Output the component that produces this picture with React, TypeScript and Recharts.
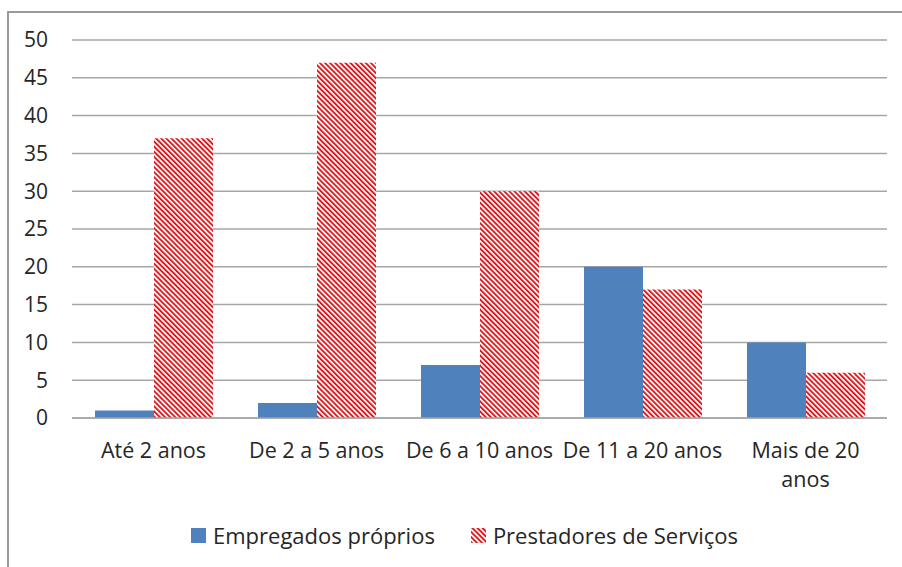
import { BarChart, Bar, XAxis, YAxis, CartesianGrid, Legend } from 'recharts';

const categories = ['Até 2 anos', 'De 2 a 5 anos', 'De 6 a 10 anos', 'De 11 a 20 anos', 'Mais de 20\nanos'];
const empregados = [1, 2, 7, 20, 10];
const prestadores = [37, 47, 30, 17, 6];
const yTicks = [0, 5, 10, 15, 20, 25, 30, 35, 40, 45, 50];

const data = categories.map((name, i) => ({
  name,
  empregados: empregados[i],
  prestadores: prestadores[i],
}));

const FONT = '"Open Sans", sans-serif';
const BLUE = '#4f81bd';
const RED = '#e3181d';
const GRID = '#a6a6a6';

const CategoryTick = (props: any) => {
  const { x, y, payload } = props;
  const lines = String(payload.value).split('\n');
  return (
    <text x={x} y={y + 32} textAnchor="middle" fill="#262626" fontSize={21.5} fontFamily={FONT}>
      {lines.map((line, i) => (
        <tspan key={i} x={x} dy={i === 0 ? 0 : 29}>
          {line}
        </tspan>
      ))}
    </text>
  );
};

const LegendContent = (props: any) => {
  const items = props.payload || [];
  return (
    <div style={{ display: 'flex', justifyContent: 'center', height: 30, alignItems: 'center', fontFamily: FONT, fontSize: 22, color: '#262626' }}>
      {items.map((item: any, i: number) => (
        <div key={i} style={{ display: 'flex', alignItems: 'center', marginLeft: i === 0 ? 0 : 36 }}>
          <svg width={15} height={15} style={{ marginRight: 7 }}>
            <rect width={15} height={15} fill={item.dataKey === 'prestadores' ? 'url(#hatch)' : BLUE} />
          </svg>
          <span>{item.value}</span>
        </div>
      ))}
    </div>
  );
};

const App = () => {
  return (
    <div style={{ position: 'fixed', left: 7, top: 11, width: 900, height: 560, border: '2px solid #9a9a9a', background: '#fff' }}>
      <BarChart
        width={893}
        height={555}
        data={data}
        margin={{ top: 27, right: 15, left: 0, bottom: 0 }}
        barGap={0}
      >
        <defs>
          <pattern id="hatch" patternUnits="userSpaceOnUse" width={3.6} height={3.6} patternTransform="rotate(-45)">
            <rect width={3.6} height={3.6} fill="#fff" />
            <rect width={1.9} height={3.6} fill={RED} />
          </pattern>
        </defs>
        <CartesianGrid vertical={false} stroke={GRID} strokeWidth={1.5} />
        <XAxis
          dataKey="name"
          axisLine={{ stroke: GRID, strokeWidth: 1.5 }}
          tickLine={false}
          height={120}
          interval={0}
          tick={<CategoryTick />}
        />
        <YAxis
          domain={[0, 50]}
          ticks={yTicks}
          width={63}
          axisLine={false}
          tickLine={false}
          tickMargin={18}
          tick={{ fill: '#262626', fontSize: 21, fontFamily: FONT }}
        />
        <Legend
          verticalAlign="bottom"
          content={<LegendContent />}
          wrapperStyle={{ left: 9, width: 893, top: 507 }}
        />
        <Bar dataKey="empregados" name="Empregados próprios" fill={BLUE} barSize={59} isAnimationActive={false} />
        <Bar dataKey="prestadores" name="Prestadores de Serviços" fill="url(#hatch)" barSize={59} isAnimationActive={false} />
      </BarChart>
    </div>
  );
};

export default App;
